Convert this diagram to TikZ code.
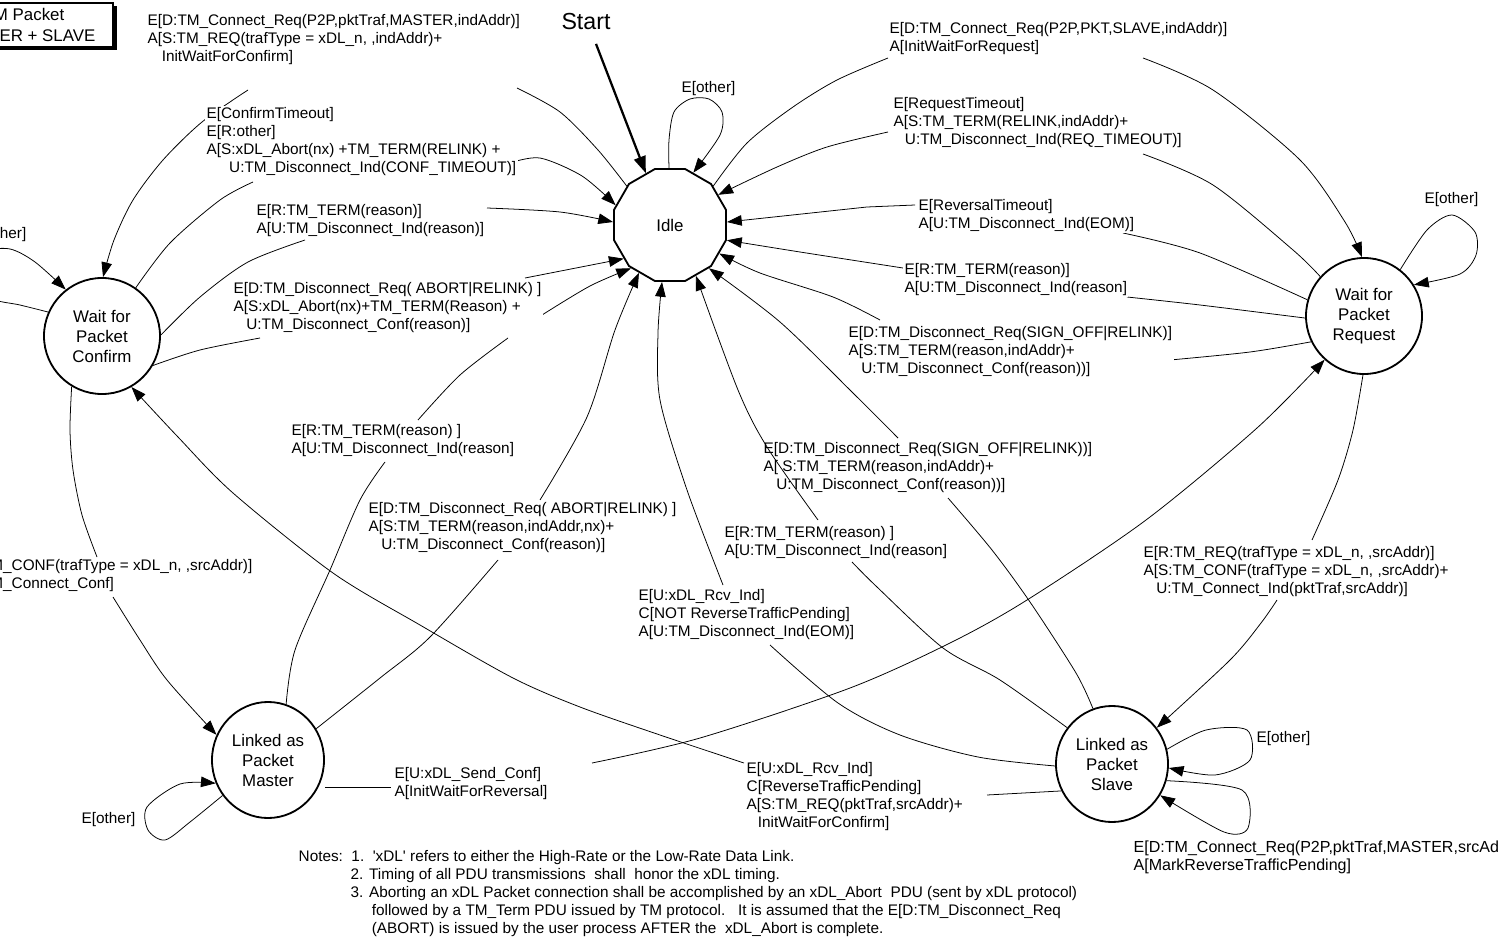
\documentclass[tikz,border=0pt]{standalone}
\usepackage{fontspec}
\setmainfont{Liberation Sans}
\usetikzlibrary{arrows.meta, shapes.geometric}
\newcommand{\lblfont}{\fontsize{10.9}{12.8}\selectfont}
\newcommand{\statefont}{\fontsize{12}{14.2}\selectfont}

\begin{document}
\begin{tikzpicture}[x=0.025cm, y=-0.025cm,
    state/.style={draw, line width=1.3pt, fill=white, font=\statefont, align=center, inner sep=0pt},
    poly/.style={state, regular polygon, regular polygon sides=12, minimum size=2.9cm},
    round/.style={state, circle, minimum size=2.9cm},
    oval/.style={state, ellipse, minimum width=2.8cm, minimum height=2.9cm},
    lbl/.style={font=\lblfont, align=left, anchor=north west, inner sep=1pt, fill=white},
    edge/.style={line width=0.55pt},
    arr/.style={edge, -{Triangle[length=10.5pt, width=7.5pt]}},
    startarr/.style={line width=1.6pt, -{Triangle[length=12pt, width=8.5pt]}}
]
\useasboundingbox (0,0) rectangle (1498,939);
\clip (0,0) rectangle (1498,939);

% legend box, cut by the page edge
\fill[black] (-76,6) rectangle (117,50);
\draw[line width=0.8pt, fill=white] (-80,3) rectangle (113,47);
\node[font=\fontsize{12}{15.5}\selectfont, align=center, inner sep=0pt] (legend) at (24,25) {TM Packet\\MASTER + SLAVE};

% states
\node[poly] (idle) at (670,225) {Idle};
\node[round] (wfc) at (102,336) {Wait for\\Packet\\Confirm};
\node[round] (wfr) at (1364,316) {Wait for\\Packet\\Request};
\node[oval] (master) at (268,760) {Linked as\\Packet\\Master};
\node[oval] (slave) at (1112,764) {Linked as\\Packet\\Slave};

\node[font=\fontsize{16.5}{18}\selectfont, inner sep=1pt] (start) at (586,22) {Start};
\draw[startarr] ([shift={(10,12)}]start.south) -- (idle.115);

% label ends of the connectors
\coordinate (e1a) at (517,88);   \coordinate (e1b) at (248,90);
\coordinate (e2a) at (253,182);  \coordinate (e2b) at (510,163);
\coordinate (e3a) at (305,240);  \coordinate (e3b) at (487,208);
\coordinate (e4a) at (260,338);  \coordinate (e4b) at (525,278);
\coordinate (e5a) at (385,462);  \coordinate (e5b) at (418,420);
\coordinate (e5c) at (508,338);  \coordinate (e5d) at (542,315);
\coordinate (e6a) at (498,560);  \coordinate (e6b) at (540,500);
\coordinate (e7a) at (770,645);  \coordinate (e7b) at (723,585);
\coordinate (e8a) at (1312,540); \coordinate (e8b) at (1277,600);
\coordinate (e9a) at (948,498);  \coordinate (e9b) at (898,438);
\coordinate (e10a) at (852,562); \coordinate (e10b) at (818,520);
\coordinate (e11a) at (987,795); \coordinate (e11b) at (744,763);
\coordinate (e12a) at (391,787); \coordinate (e12b) at (592,763);
\coordinate (e13a) at (97,557);  \coordinate (e13b) at (113,597);
\coordinate (e14a) at (888,58);  \coordinate (e14b) at (1143,58);
\coordinate (e15a) at (1143,154); \coordinate (e15b) at (888,132);
\coordinate (e16a) at (1123,233); \coordinate (e16b) at (915,205);
\coordinate (e17a) at (1127,297); \coordinate (e17b) at (903,268);
\coordinate (e18a) at (1170,360); \coordinate (e18b) at (880,320);

% self loops
\draw[arr] plot[smooth] coordinates {(idle.91) (669,140) (674,112) (690,99) (709,99) (722,112) (720,135) (idle.66)};
\draw[arr] plot[smooth] coordinates {(wfc.156) (20,305) (-10,298) (-30,275) (-15,252) (10,249) (35,262) (wfc.128)};
\draw[arr] plot[smooth] coordinates {(wfr.52) (1427,230) (1452,215) (1475,232) (1476,255) (1460,274) (wfr.32)};
\draw[arr] plot[smooth] coordinates {(master.218) (190,822) (165,840) (148,830) (147,807) (180,784) (master.204)};
\draw[arr] plot[smooth] coordinates {(slave.15) (1206,730) (1247,730) (1250,760) (1215,775) (slave.-4)};
\draw[arr] plot[smooth] coordinates {(slave.-17) (1242,790) (1248,828) (1224,832) (slave.-33)};

% connectors
\draw[edge] plot[smooth] coordinates {(idle.138) (598,150) (560,112) (e1a)};
\draw[arr] plot[smooth] coordinates {(e1b) (202,122) (163,160) (133,200) (114,240) (wfc.89)};
\draw[edge] plot[smooth] coordinates {(wfc.55) (170,243) (220,200) (e2a)};
\draw[arr] plot[smooth] coordinates {(e2b) (540,158) (582,176) (idle.160)};
\draw[edge] plot[smooth] coordinates {(wfc.1) (200,297) (248,262) (e3a)};
\draw[arr] plot[smooth] coordinates {(e3b) (560,212) (idle.177)};
\draw[edge] plot[smooth] coordinates {(wfc.-30) (200,350) (e4a)};
\draw[arr] (e4b) -- (idle.216);
\draw[edge] plot[smooth] coordinates {(master.72) (295,650) (330,570) (360,500) (e5a)};
\draw[edge] plot[smooth] coordinates {(e5b) (460,375) (e5c)};
\draw[arr] plot[smooth] coordinates {(e5d) (590,286) (idle.228)};
\draw[edge] plot[smooth] coordinates {(master.33) (380,678) (430,637) (e6a)};
\draw[arr] plot[smooth] coordinates {(e6b) (587,417) (615,330) (idle.237)};
\draw[edge] plot[smooth] coordinates {(slave.182) (978,757) (900,735) (838,703) (e7a)};
\draw[arr] plot[smooth] coordinates {(e7b) (687,490) (660,400) (658,333) (idle.262)};
\draw[edge] plot[smooth] coordinates {(wfr.269) (1353,430) (1338,480) (e8a)};
\draw[arr] plot[smooth] coordinates {(e8b) (1261,623) (1230,660) (slave.39)};
\draw[edge] plot[smooth] coordinates {(slave.109) (1076,673) (1030,602) (992,550) (e9a)};
\draw[arr] plot[smooth] coordinates {(e9b) (855,395) (780,322) (idle.312)};
\draw[edge] plot[smooth] coordinates {(slave.141) (1000,680) (943,648) (877,587) (e10a)};
\draw[arr] plot[smooth] coordinates {(e10b) (767,447) (738,390) (idle.297)};
\draw[edge] (slave.208) -- (e11a);
\draw[arr] plot[smooth] coordinates {(e11b) (660,735) (580,707) (513,678) (420,625) (333,573) (233,493) (178,437) (wfc.300)};
\draw[edge] (master.east |- e12a) -- (e12a);
\draw[arr] plot[smooth] coordinates {(e12b) (700,738) (850,688) (950,643) (1027,600) (1146,520) (1257,428) (wfr.228)};
\draw[edge] plot[smooth] coordinates {(wfc.239) (70,430) (73,470) (82,515) (e13a)};
\draw[arr] plot[smooth] coordinates {(e13b) (140,640) (167,680) (master.154)};
\draw[edge] plot[smooth] coordinates {(idle.42) (747,143) (793,107) (837,80) (e14a)};
\draw[arr] plot[smooth] coordinates {(e14b) (1213,90) (1300,160) (1345,222) (wfr.92)};
\draw[edge] plot[smooth] coordinates {(wfr.138) (1293,250) (1213,185) (e15a)};
\draw[arr] plot[smooth] coordinates {(e15b) (827,147) (777,167) (idle.32)};
\draw[edge] plot[smooth] coordinates {(wfr.164) (1200,253) (e16a)};
\draw[arr] (e16b) -- (867,207) -- (idle.3);
\draw[edge] plot[smooth] coordinates {(wfr.182) (1200,305) (e17a)};
\draw[arr] plot[smooth] coordinates {(e17b) (800,252) (idle.345)};
\draw[edge] plot[smooth] coordinates {(wfr.206) (1250,352) (e18a)};
\draw[arr] plot[smooth] coordinates {(e18b) (833,297) (760,273) (idle.330)};

% labels
\node[lbl] (l1) at (146,13) {E[D:TM\_Connect\_Req(P2P,pktTraf,MASTER,indAddr)]\\A[S:TM\_REQ(trafType = xDL\_n, ,indAddr)+\\\hspace*{10pt}InitWaitForConfirm]};
\node[lbl] (l2) at (205,106) {E[ConfirmTimeout]\\E[R:other]\\A[S:xDL\_Abort(nx) +TM\_TERM(RELINK) +\\\hspace*{16pt}U:TM\_Disconnect\_Ind(CONF\_TIMEOUT)]};
\node[lbl] (l3) at (255,203) {E[R:TM\_TERM(reason)]\\A[U:TM\_Disconnect\_Ind(reason)]};
\node[lbl] (l4) at (232,281) {E[D:TM\_Disconnect\_Req( ABORT|RELINK) ]\\A[S:xDL\_Abort(nx)+TM\_TERM(Reason) +\\\hspace*{9pt}U:TM\_Disconnect\_Conf(reason)]};
\node[lbl] (l5) at (290,423) {E[R:TM\_TERM(reason) ]\\A[U:TM\_Disconnect\_Ind(reason]};
\node[lbl] (l6) at (367,501) {E[D:TM\_Disconnect\_Req( ABORT|RELINK) ]\\A[S:TM\_TERM(reason,indAddr,nx)+\\\hspace*{9pt}U:TM\_Disconnect\_Conf(reason)]};
\node[lbl] (l7) at (637,588) {E[U:xDL\_Rcv\_Ind]\\C[NOT ReverseTrafficPending]\\A[U:TM\_Disconnect\_Ind(EOM)]};
\node[lbl, fill=none] (l9) at (762,441) {E[D:TM\_Disconnect\_Req(SIGN\_OFF|RELINK))]\\A[ S:TM\_TERM(reason,indAddr)+\\\hspace*{9pt}U:TM\_Disconnect\_Conf(reason))]};
\node[lbl] (l10) at (723,525) {E[R:TM\_TERM(reason) ]\\A[U:TM\_Disconnect\_Ind(reason]};
\node[lbl] (l11) at (745,761) {E[U:xDL\_Rcv\_Ind]\\C[ReverseTrafficPending]\\A[S:TM\_REQ(pktTraf,srcAddr)+\\\hspace*{8pt}InitWaitForConfirm]};
\node[lbl] (l12) at (393,766) {E[U:xDL\_Send\_Conf]\\A[InitWaitForReversal]};
\node[lbl, anchor=north east] (l13) at (254,558) {E[R:TM\_CONF(trafType = xDL\_n, ,srcAddr)]\\A[U:TM\_Connect\_Conf]};
\node[lbl] (l14) at (888,21) {E[D:TM\_Connect\_Req(P2P,PKT,SLAVE,indAddr)]\\A[InitWaitForRequest]};
\node[lbl] (l15) at (892,96) {E[RequestTimeout]\\A[S:TM\_TERM(RELINK,indAddr)+\\\hspace*{8pt}U:TM\_Disconnect\_Ind(REQ\_TIMEOUT)]};
\node[lbl] (l16) at (917,198) {E[ReversalTimeout]\\A[U:TM\_Disconnect\_Ind(EOM)]};
\node[lbl] (l17) at (903,262) {E[R:TM\_TERM(reason)]\\A[U:TM\_Disconnect\_Ind(reason]};
\node[lbl] (l18) at (847,325) {E[D:TM\_Disconnect\_Req(SIGN\_OFF|RELINK)]\\A[S:TM\_TERM(reason,indAddr)+\\\hspace*{9pt}U:TM\_Disconnect\_Conf(reason))]};
\node[lbl] (l8) at (1142,545) {E[R:TM\_REQ(trafType = xDL\_n, ,srcAddr)]\\A[S:TM\_CONF(trafType = xDL\_n, ,srcAddr)+\\\hspace*{9pt}U:TM\_Connect\_Ind(pktTraf,srcAddr)]};

\node[lbl] (oidle) at (680,80) {E[other]};
\node[lbl] (owfr) at (1423,191) {E[other]};
\node[lbl, anchor=north east] (owfc) at (28,226) {E[other]};
\node[lbl] (omaster) at (80,811) {E[other]};
\node[lbl] (oslave) at (1255,730) {E[other]};
\node[lbl, font=\fontsize{11.4}{12.8}\selectfont] (rslave) at (1132,839) {E[D:TM\_Connect\_Req(P2P,pktTraf,MASTER,srcAddr)]\\A[MarkReverseTrafficPending]};

\node[lbl, fill=none] (notes) at (297,849) {Notes:\ \ 1.\ \ \textquotesingle xDL\textquotesingle{} refers to either the High-Rate or the Low-Rate Data Link.\\
\hspace*{37pt}2. Timing of all PDU transmissions\ \ shall\ \ honor the xDL timing.\\
\hspace*{37pt}3. Aborting an xDL Packet connection shall be accomplished by an xDL\_Abort\ \ PDU (sent by xDL protocol)\\
\hspace*{52pt}followed by a TM\_Term PDU issued by TM protocol.\ \ \ It is assumed that the E[D:TM\_Disconnect\_Req\\
\hspace*{52pt}(ABORT) is issued by the user process AFTER the\ \ xDL\_Abort is complete.};
\end{tikzpicture}
\end{document}
